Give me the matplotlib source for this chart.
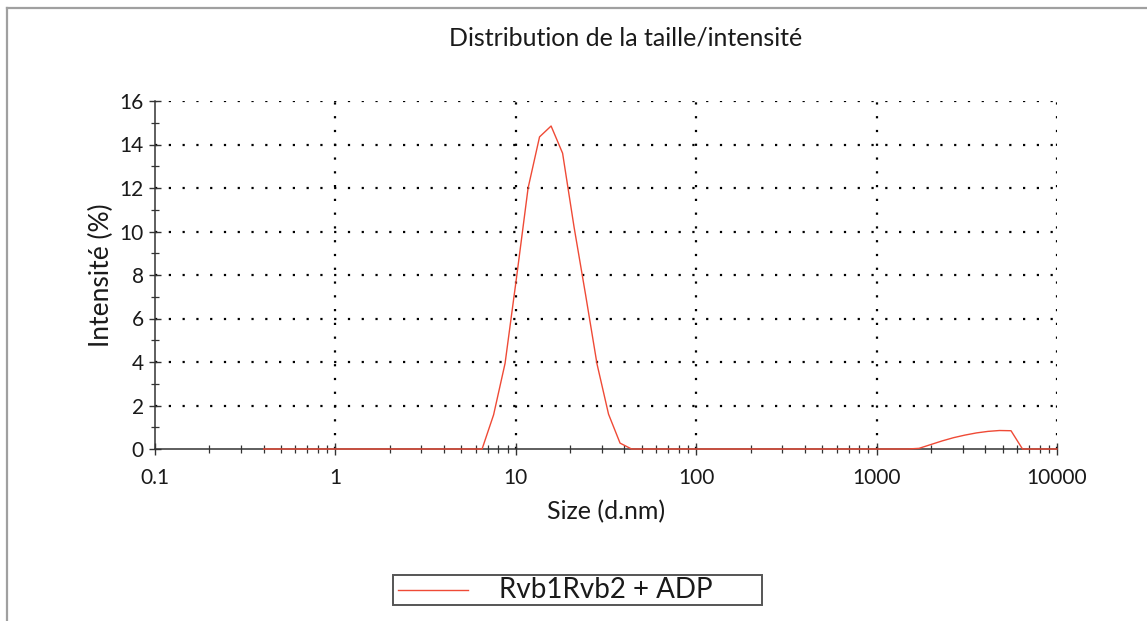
import matplotlib.pyplot as plt
from matplotlib.lines import Line2D
from matplotlib.patches import Rectangle
from matplotlib.ticker import LogLocator, MultipleLocator, FixedLocator

plt.rcParams['font.family'] = ['Lato', 'DejaVu Sans']

# Size classes (d.nm) of the DLS report
sizes = [0.4, 0.4632, 0.5365, 0.6213, 0.7195, 0.8332, 0.9649, 1.117, 1.294, 1.499,
         1.736, 2.01, 2.328, 2.696, 3.122, 3.615, 4.187, 4.849, 5.615, 6.503,
         7.531, 8.721, 10.1, 11.7, 13.54, 15.69, 18.17, 21.04, 24.36, 28.21,
         32.67, 37.84, 43.82, 50.75, 58.77, 68.06, 78.82, 91.28, 105.7, 122.4,
         141.8, 164.2, 190.1, 220.2, 255.0, 295.3, 342.0, 396.1, 458.7, 531.2,
         615.1, 712.4, 825.0, 955.4, 1106, 1281, 1484, 1718, 1990, 2305,
         2669, 3091, 3580, 4145, 4801, 5560, 6439, 7456, 8635, 10000]

# Intensity (%) per size class
intensity = [0, 0, 0, 0, 0, 0, 0, 0, 0, 0,
             0, 0, 0, 0, 0, 0, 0, 0, 0, 0,
             1.57, 3.94, 7.9, 12.0, 14.35, 14.85, 13.6, 10.2, 7.1, 3.9,
             1.6, 0.27, 0, 0, 0, 0, 0, 0, 0, 0,
             0, 0, 0, 0, 0, 0, 0, 0, 0, 0,
             0, 0, 0, 0, 0, 0, 0, 0.03, 0.2, 0.37,
             0.52, 0.64, 0.74, 0.81, 0.85, 0.84, 0, 0, 0, 0]

sample_name = 'Rvb1Rvb2 + ADP'
y_ticks = [0, 2, 4, 6, 8, 10, 12, 14, 16]
x_ticks = [0.1, 1, 10, 100, 1000, 10000]
x_tick_labels = ['0.1', '1', '10', '100', '1000', '10000']

W, H = 1147, 621
fig = plt.figure(figsize=(W / 100, H / 100), dpi=100)
fig.patch.set_facecolor('white')

# page frame (top and left only)
fig.add_artist(Line2D([7 / W, 1], [1 - 8 / H, 1 - 8 / H], color='#a0a0a0', lw=1.6))
fig.add_artist(Line2D([7 / W, 7 / W], [0, 1 - 8 / H], color='#a0a0a0', lw=1.6))

ax = fig.add_axes([155 / W, 1 - 449 / H, 902 / W, 348 / H])
ax.set_xscale('log')
ax.set_xlim(0.1, 10000)
ax.set_ylim(0, 16)

ax.plot(sizes, intensity, color='#ef4a36', lw=1.0, zorder=4, clip_on=False)

for side in ['top', 'right']:
    ax.spines[side].set_visible(False)
for side in ['left', 'bottom']:
    ax.spines[side].set_color('#333333')
    ax.spines[side].set_linewidth(1.1)

ax.xaxis.set_major_locator(FixedLocator(x_ticks))
ax.set_xticklabels(x_tick_labels)
ax.xaxis.set_minor_locator(LogLocator(base=10, subs=range(2, 10)))
ax.xaxis.set_minor_formatter(plt.NullFormatter())
ax.set_yticks(y_ticks)
ax.yaxis.set_minor_locator(MultipleLocator(1))

ax.tick_params(which='major', direction='inout', length=8, width=1.0,
               color='#333333', labelsize=15, labelcolor='#1a1a1a')
ax.tick_params(which='minor', direction='inout', length=6, width=0.9,
               color='#333333')
ax.tick_params(axis='x', which='major', pad=10)
ax.tick_params(axis='y', which='major', pad=4)

# dotted grid at the major ticks
for xv in x_ticks[1:]:
    ax.axvline(xv, color='black', lw=1.6, ls=(0, (1, 5.2)), zorder=1)
for yv in y_ticks[1:]:
    ax.axhline(yv, color='black', lw=1.6, ls=(0, (1, 5.2)), zorder=1)

ax.set_xlabel('Size (d.nm)', fontsize=18, color='#1a1a1a', labelpad=8)
ax.set_ylabel('Intensité (%)', fontsize=19, color='#1a1a1a', labelpad=4)
fig.text(626 / W, 1 - 38 / H, 'Distribution de la taille/intensité',
         fontsize=18, ha='center', va='center', color='#1a1a1a')

# legend box
fig.add_artist(Rectangle((393 / W, 1 - 605 / H), 369 / W, 30 / H,
                         transform=fig.transFigure, fill=False,
                         edgecolor='#555555', lw=1.4))
fig.add_artist(Line2D([398 / W, 468 / W], [1 - 590 / H, 1 - 590 / H],
                      color='#ef4a36', lw=1.0))
fig.text(606 / W, 1 - 590 / H, sample_name, fontsize=20,
         ha='center', va='center', color='#1a1a1a')

fig.savefig('out.png', dpi=100)
